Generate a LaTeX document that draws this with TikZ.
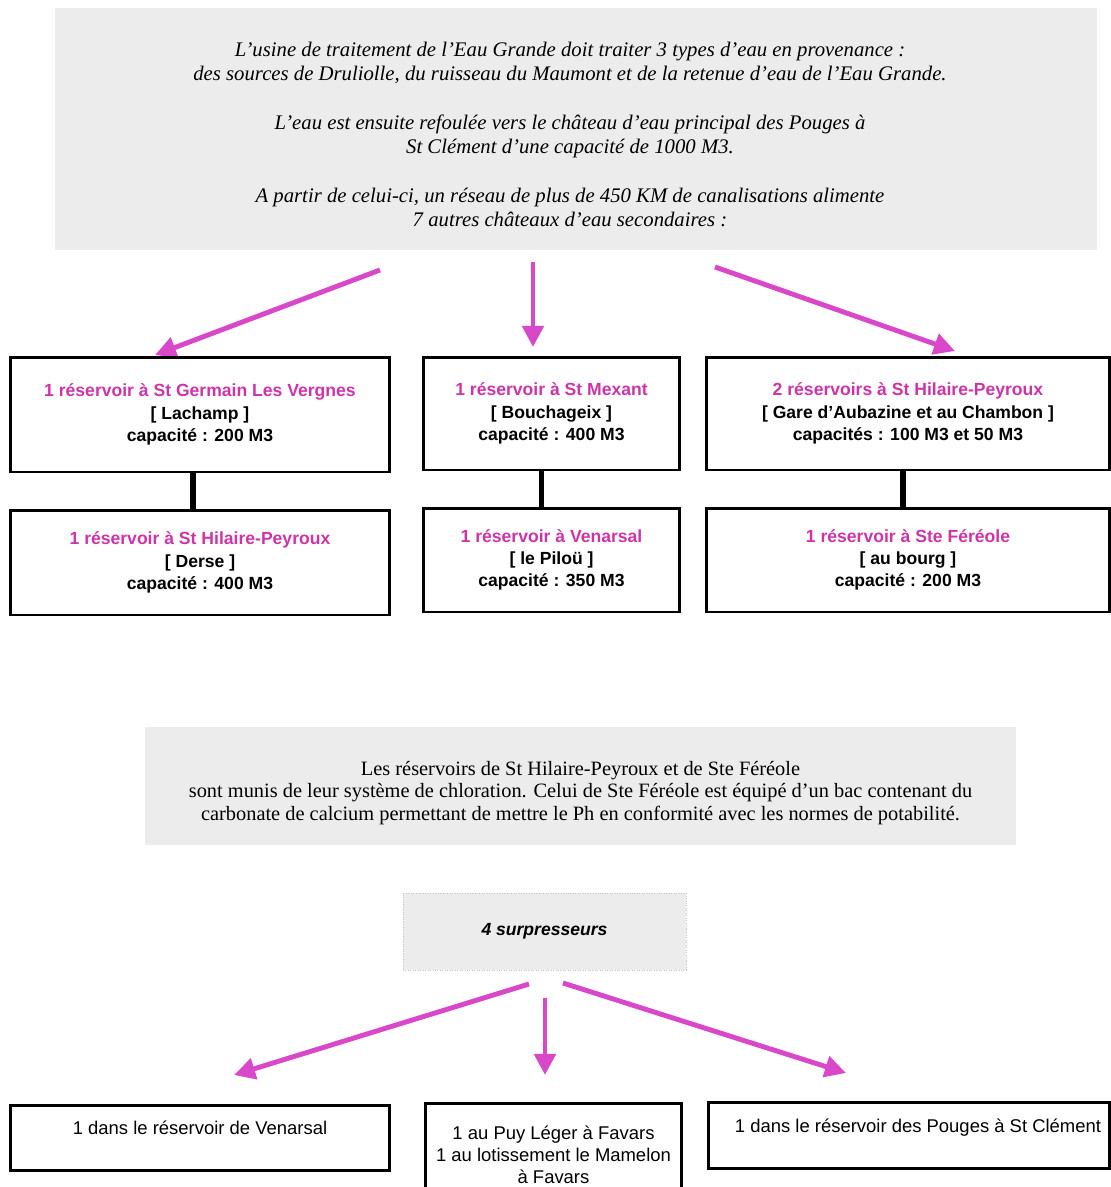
\documentclass[tikz,border=0pt]{standalone}
\usepackage{fontspec}
\setmainfont{Liberation Serif}
\setsansfont{Liberation Sans}
\usepackage{xcolor}
\usepackage{tikz}
\usetikzlibrary{arrows.meta}
\definecolor{scheme}{RGB}{216,72,200}
\definecolor{titre}{RGB}{206,52,168}
\definecolor{fond}{RGB}{236,236,236}

\begin{document}
\begin{tikzpicture}[x=0.02cm,y=-0.02cm,
	cadre/.style={draw,line width=1.7pt,align=center,inner sep=0pt,font=\sffamily\bfseries\fontsize{10}{12.7}\selectfont},
	texte/.style={align=center,inner sep=0pt,font=\sffamily\fontsize{10.5}{12.5}\selectfont},
	panneau/.style={fill=fond,inner sep=0pt,align=center},
	fleche/.style={color=scheme,line width=2.8pt,-{Triangle[length=12pt,width=12pt]}},
	lien/.style={line width=3pt}]
				\useasboundingbox (0,0) rectangle (1110,1187);
				% texte d'introduction
				\node[panneau,minimum width=20.84cm,minimum height=4.84cm] (intro) at (576,129) {};
				\node[align=center,inner sep=0pt,font=\itshape\fontsize{11.8}{13.6}\selectfont] (introt) at (570,134.5)
					{L'usine de traitement de l'Eau Grande doit traiter 3 types d'eau en provenance :\\
					des sources de Druliolle, du ruisseau du Maumont et de la retenue d'eau de l'Eau Grande.\\[14.5pt]
					L'eau est ensuite refoulée vers le château d'eau principal des Pouges à\\
					St Clément d'une capacité de 1000 M3.\\[14.5pt]
					A partir de celui-ci, un réseau de plus de 450 KM de canalisations alimente\\
					7 autres châteaux d'eau secondaires :};
				
				\coordinate (d1) at (380,270);%depart gauche
				\coordinate (d2) at (533,262);%depart milieu
				\coordinate (d3) at (715,267);%depart droite
				\coordinate (f1) at (155,355);
				\coordinate (f2) at (533,347);
				\coordinate (f3) at (955,351);
				\draw[fleche] (d1) to (f1);
				\draw[fleche] (d2) to (f2);
				\draw[fleche] (d3) to (f3);
				
				% reservoirs
				\node[cadre,minimum width=7.6cm,minimum height=2.3cm] (sg) at (200,414.5)
					{{\color{titre}1 réservoir à St Germain Les Vergnes}\\{[ Lachamp ]}\\capacité : 200 M3};
				\node[cadre,minimum width=5.14cm,minimum height=2.26cm] (sm) at (551.5,413.5)
					{{\color{titre}1 réservoir à St Mexant}\\{[ Bouchageix ]}\\capacité : 400 M3};
				\node[cadre,minimum width=8.08cm,minimum height=2.26cm] (sh) at (908,413.5)
					{{\color{titre}2 réservoirs à St Hilaire-Peyroux}\\{[ Gare d'Aubazine et au Chambon ]}\\capacités : 100 M3 et 50 M3};
				\node[cadre,minimum width=7.6cm,minimum height=2.1cm] (hp) at (200,562.5)
					{{\color{titre}1 réservoir à St Hilaire-Peyroux}\\{[ Derse ]}\\capacité : 400 M3};
				\node[cadre,minimum width=5.14cm,minimum height=2.08cm] (ve) at (551.5,560)
					{{\color{titre}1 réservoir à Venarsal}\\{[ le Piloü ]}\\capacité : 350 M3};
				\node[cadre,minimum width=8.08cm,minimum height=2.08cm] (sf) at (908,560)
					{{\color{titre}1 réservoir à Ste Féréole}\\{[ au bourg ]}\\capacité : 200 M3};
				
				\draw[lien] ([xshift=-0.14cm]sg.south) to ([xshift=-0.14cm]hp.north);
				\draw[lien] ([xshift=-0.2cm]sm.south) to ([xshift=-0.2cm]ve.north);
				\draw[lien] ([xshift=-0.1cm]sh.south) to ([xshift=-0.1cm]sf.north);
				
				% chloration
				\node[panneau,minimum width=17.42cm,minimum height=2.36cm] (chlore) at (580.5,786) {};
				\node[align=center,inner sep=0pt,font=\fontsize{11.6}{13}\selectfont] (chloret) at (580.5,793)
					{Les réservoirs de St Hilaire-Peyroux et de Ste Féréole\\
					sont munis de leur système de chloration. Celui de Ste Féréole est équipé d'un bac contenant du\\
					carbonate de calcium permettant de mettre le Ph en conformité avec les normes de potabilité.};
				
				\node[panneau,draw=gray!45,densely dotted,minimum width=5.66cm,minimum height=1.54cm,font=\sffamily\bfseries\itshape\fontsize{10}{12}\selectfont] (surp) at (544.5,931.5) {4 surpresseurs};
				
				\coordinate (d4) at (529,984);
				\coordinate (d5) at (545,998);
				\coordinate (d6) at (563,983);
				\coordinate (f4) at (234,1075);
				\coordinate (f5) at (545,1075);
				\coordinate (f6) at (846,1073);
				\draw[fleche] (d4) to (f4);
				\draw[fleche] (d5) to (f5);
				\draw[fleche] (d6) to (f6);
				
				% surpresseurs
				\node[cadre,minimum width=7.6cm,minimum height=1.3cm] (v1) at (200,1137.5) {};
				\node[texte] (v1t) at (200,1128) {1 dans le réservoir de Venarsal};
				\node[cadre,minimum width=5.14cm,minimum height=2.2cm] (v2) at (553.5,1158) {};
				\node[texte] (v2t) at (553.5,1155) {1 au Puy Léger à Favars\\1 au lotissement le Mamelon\\à Favars};
				\node[cadre,minimum width=8.04cm,minimum height=1.32cm] (v3) at (909,1135) {};
				\node[texte] (v3t) at (918,1128) {1 dans le réservoir des Pouges à St Clément};
			\end{tikzpicture}
\end{document}
